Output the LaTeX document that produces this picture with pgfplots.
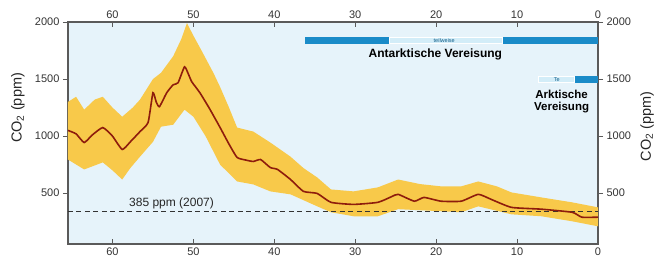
\documentclass[border=0pt]{standalone}
\usepackage{pgfplots}
\pgfplotsset{compat=1.18}
\usepackage{fontspec}
\setmainfont{Liberation Sans}
\definecolor{bg}{HTML}{E6F3FA}
\definecolor{band}{HTML}{F8C94A}
\definecolor{meanline}{HTML}{8E1C0C}
\definecolor{bardark}{HTML}{1A8BC8}
\definecolor{barlight}{HTML}{D3EDF8}
\definecolor{frame}{HTML}{5A5A5A}
\pgfplotstableread{
age ppm
65.5 1050
64.5 1020
63.5 944
62.5 1010
61.2 1075
60.0 1000
58.8 883
57.8 950
56.6 1040
55.6 1120
55.0 1380
54.6 1300
54.2 1258
53.3 1380
52.5 1450
51.9 1467
51.1 1607
50.6 1540
50.2 1476
49.2 1380
48.0 1240
46.7 1075
45.6 930
44.6 813
43.5 790
42.6 778
41.7 795
40.5 725
39.6 708
38.0 620
36.4 516
34.7 498
33.0 420
30.2 402
27.2 420
25.5 470
24.7 490
22.7 430
21.5 463
19.4 430
16.9 430
14.8 490
13.2 446
10.7 376
7.0 360
3.2 333
2.0 290
0.0 290
}\meandata
\pgfplotstableread{
age ppm
65.5 1300
64.5 1345
63.5 1232
62.2 1320
61.2 1345
60.0 1250
58.8 1170
57.5 1250
56.6 1320
55.0 1500
54.0 1555
52.5 1700
51.5 1850
50.8 1990
50.0 1880
49.0 1750
47.5 1550
46.7 1430
45.6 1250
44.6 1075
42.6 1040
40.5 944
38.0 820
36.4 720
34.7 638
33.0 533
30.2 516
27.2 551
24.7 620
22.0 580
19.4 560
16.9 560
14.8 603
12.5 560
10.7 507
7.0 463
3.2 420
0.0 376
0.0 210
3.2 254
7.0 298
10.7 315
14.8 385
16.9 333
19.4 342
24.7 360
27.2 298
30.2 298
33.0 333
34.7 385
38.0 490
40.5 516
42.6 577
44.6 603
46.7 750
48.5 1000
50.0 1170
51.1 1232
52.5 1100
54.0 1083
55.0 950
56.6 820
57.8 720
58.8 620
60.0 700
61.2 770
63.5 708
65.5 795
}\banddata
\begin{document}
\begin{tikzpicture}
\pgfplotsset{
  common/.style={
    width=530pt, height=222pt, scale only axis,
    xmin=0, xmax=65.5, x dir=reverse, ymin=55, ymax=2000,
    xtick={0,10,20,30,40,50,60}, ytick={500,1000,1500,2000},
    xtick align=inside, ytick align=outside,
    major tick length=5pt,
    tick style={frame, line width=0.8pt},
    axis line style={draw=frame, line width=1.1pt},
    ticklabel style={font=\fontsize{11}{12}\selectfont, text=black!80},
    /pgf/number format/assume math mode=true,
    /pgf/number format/1000 sep={},
  }
}
\begin{axis}[common, name=ax,
  axis background/.style={fill=bg},
  xtick pos=both, ytick pos=both,
  xticklabel pos=left, yticklabel pos=left,
  ylabel={CO\textsubscript{2} (ppm)},
  every axis y label/.style={at={(rel axis cs:0,0.613)}, xshift=-50pt, rotate=90, anchor=center, font=\fontsize{14.5}{15}\selectfont, text=black!85},
  clip=true]
\addplot[fill=band, draw=none, forget plot] table[x=age, y=ppm] {\banddata} -- cycle;
\addplot[dash pattern=on 5pt off 3.5pt, black!80, line width=0.9pt] coordinates {(65.5,340) (0,340)};
\addplot[meanline, line width=1.6pt, smooth, tension=0.3] table[x=age, y=ppm] {\meandata};
\fill[bardark] (axis cs:36.2,1872) rectangle (axis cs:0,1805);
\fill[barlight, draw=white, line width=0.4pt] (axis cs:25.8,1866) rectangle (axis cs:11.8,1811);
\node[font=\fontsize{5.5}{6}\selectfont, text=bardark!70!black] at (axis cs:19,1840) {teilweise};
\node[font=\bfseries\fontsize{12}{13}\selectfont] at (axis cs:20.1,1712) {Antarktische Vereisung};
\fill[bardark] (axis cs:2.9,1526) rectangle (axis cs:0,1465);
\fill[barlight, draw=white, line width=0.4pt] (axis cs:7.4,1522) rectangle (axis cs:2.9,1469);
\node[font=\fontsize{5.5}{6}\selectfont, text=bardark!70!black] at (axis cs:5.1,1496) {Te};
\node[font=\bfseries\fontsize{11.5}{12.5}\selectfont, align=center, text=black] at (axis cs:4.5,1305) {Arktische\\Vereisung};
\node[font=\fontsize{12}{13}\selectfont, anchor=south, text=black!85, inner sep=1.5pt] at (axis cs:52.7,350) {385 ppm (2007)};
\end{axis}
\begin{axis}[common,
  axis line style={draw=none}, tick style={draw=none},
  xtick pos=right, ytick pos=right,
  xticklabel pos=right, yticklabel pos=right,
  ylabel={CO\textsubscript{2} (ppm)},
  every axis y label/.style={at={(rel axis cs:1,0.53)}, xshift=49pt, rotate=90, anchor=center, font=\fontsize{14.5}{15}\selectfont, text=black!85},
  ]
\addplot[draw=none] coordinates {(0,1000)};
\end{axis}
\pgfresetboundingbox
\path[use as bounding box] ([xshift=-68pt,yshift=-17pt]ax.south west) rectangle ([xshift=67pt,yshift=22pt]ax.north east);
\end{tikzpicture}
\end{document}
